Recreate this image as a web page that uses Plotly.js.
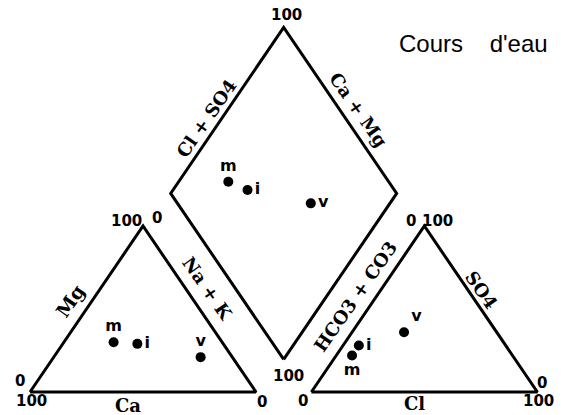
<!DOCTYPE html>
<html>
<head>
<meta charset="utf-8">
<script src="https://cdn.plot.ly/plotly-3.0.1.min.js"></script>
<style>body{margin:0;background:#fff}#chart{width:566px;height:415px}</style>
</head>
<body>
<div id="chart"></div>
<script>
// Piper diagram, "Cours d'eau" samples (percent of meq/l)
var samples = ['m', 'i', 'v'];
var ca = [48, 38, 14];
var mg = [30, 29, 21];
var naK = [22, 33, 65];
var hco3 = [71, 65, 41];
var so4 = [22, 28, 36];
var cl = [7, 7, 23];

var H = 86.6;              // triangle height
var RX = 124.5;            // left corner of anion triangle
var BX = 112.25, BY = 17;  // bottom corner of the diamond

// cation triangle: Ca at left, Mg at top, Na+K at right
var catX = samples.map((s, k) => naK[k] + mg[k] / 2);
var catY = samples.map((s, k) => mg[k] * H / 100);
// anion triangle: HCO3+CO3 at left, SO4 at top, Cl at right
var anX = samples.map((s, k) => RX + cl[k] + so4[k] / 2);
var anY = samples.map((s, k) => so4[k] * H / 100);
// diamond: Ca+Mg toward left, Cl+SO4 toward right
var dX = samples.map((s, k) => BX + 0.5 * ((cl[k] + so4[k]) - (ca[k] + mg[k])));
var dY = samples.map((s, k) => BY + H / 100 * ((cl[k] + so4[k]) + (ca[k] + mg[k])));

var frame = {color: 'black', width: 3};
var traces = [
  {x: [0, 100, 50, 0], y: [0, 0, H, 0], mode: 'lines', line: frame},
  {x: [RX, RX + 100, RX + 50, RX], y: [0, 0, H, 0], mode: 'lines', line: frame},
  {x: [BX, BX + 50, BX, BX - 50, BX], y: [BY, BY + H, BY + 2 * H, BY + H, BY], mode: 'lines', line: frame}
];

var ptFont = {family: 'DejaVu Sans', size: 16, color: 'black', weight: 'bold'};
function pts(x, y, pos) {
  return {x: x, y: y, mode: 'markers+text', text: samples, textposition: pos,
    textfont: ptFont, marker: {color: 'black', size: 10}, cliponaxis: false};
}
traces.push(pts(catX, catY, ['top center', 'middle right', 'top center']));
traces.push(pts(dX, dY, ['top center', 'middle right', 'middle right']));
traces.push(pts(anX, anY, ['bottom center', 'middle right', 'top right']));

// label positions in pixels
function lab(text, px, py, size, angle, fam) {
  return {text: text, x: px / 566, y: 1 - py / 415, xref: 'paper', yref: 'paper',
    showarrow: false, textangle: angle || 0, xanchor: 'center', yanchor: 'middle',
    font: {family: fam || 'DejaVu Sans', size: size, color: 'black', weight: 'bold'}};
}
var serif = 'DejaVu Serif';
var ann = [
  lab('100', 286, 15, 15), lab('100', 126, 221, 15), lab('0', 157, 218, 15),
  lab('0', 20, 381, 15), lab('100', 31, 401, 15), lab('0', 262, 402, 15),
  lab('100', 288, 376, 15), lab('0', 411, 221, 15), lab('100', 438, 221, 15),
  lab('0', 303, 401, 15), lab('0', 542, 383, 15), lab('100', 538, 401, 15),
  lab('Ca', 128, 405, 18, 0, serif), lab('Cl', 414, 403, 18, 0, serif),
  lab('Mg', 70, 301, 19, -55, serif), lab('Na + K', 208, 288, 18, 55, serif),
  lab('Cl + SO4', 206, 118, 18, -55, serif), lab('Ca + Mg', 358, 110, 18, 55, serif),
  lab('HCO3 + CO3', 355, 296, 18, -55, serif), lab('SO4', 482, 290, 18, 55, serif),
  {text: 'Cours&nbsp;&nbsp;&nbsp; d\'eau', x: 473 / 566, y: 1 - 44 / 415, xref: 'paper', yref: 'paper',
    showarrow: false, xanchor: 'center', yanchor: 'middle',
    font: {family: 'Liberation Sans', size: 24, color: 'black'}}
];

var layout = {
  width: 566, height: 415,
  margin: {l: 0, r: 0, t: 0, b: 0},
  paper_bgcolor: 'white', plot_bgcolor: 'white',
  showlegend: false,
  xaxis: {range: [-30 / 2.26, 536 / 2.26], visible: false, fixedrange: true},
  yaxis: {range: [-23 / 1.917, 392 / 1.917], visible: false, fixedrange: true},
  annotations: ann
};
Plotly.newPlot('chart', traces, layout, {staticPlot: true});
</script>
</body>
</html>
